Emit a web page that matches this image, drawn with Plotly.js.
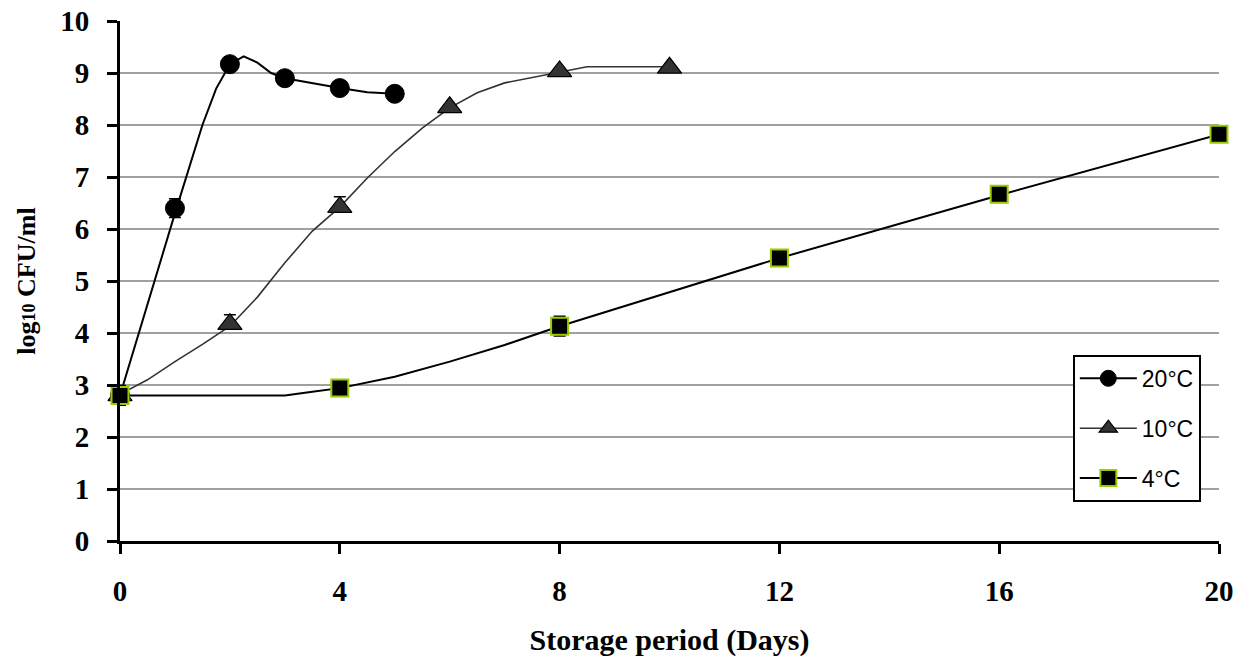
<!DOCTYPE html>
<html>
<head>
<meta charset="utf-8">
<script src="https://cdn.plot.ly/plotly-3.0.1.min.js"></script>
<style>html,body{margin:0;padding:0;background:#fff;}#chart{width:1240px;height:659px;}</style>
</head>
<body>
<div id="chart"></div>
<script>
// Measured points
const seriesNames = ['20°C', '10°C', '4°C'];
const days20 = [0, 1, 2, 3, 4, 5];
const cfu20 = [2.8, 6.4, 9.17, 8.9, 8.71, 8.6];
const errUp20 = [0, 0.18, 0, 0, 0, 0];
const errDown20 = [0, 0.18, 0, 0, 0, 0];
const days10 = [0, 2, 4, 6, 8, 10];
const cfu10 = [2.8, 4.17, 6.42, 8.34, 9.03, 9.1];
const errUp10 = [0, 0.18, 0.2, 0.05, 0, 0];
const errDown10 = [0, 0, 0, 0, 0, 0];
const days4 = [0, 4, 8, 12, 16, 20];
const cfu4 = [2.8, 2.94, 4.13, 5.44, 6.67, 7.82];
const errUp4 = [0.19, 0, 0.19, 0, 0, 0];
const errDown4 = [0.19, 0, 0.19, 0, 0, 0];

// Fitted curves
const fitDays20 = [0, 1, 1.5, 1.75, 2, 2.25, 2.5, 2.75, 3, 3.5, 4, 4.5, 5];
const fit20 = [2.8, 6.3, 8.0, 8.7, 9.17, 9.32, 9.2, 9.0, 8.9, 8.8, 8.71, 8.63, 8.6];
const fitDays10 = [0, 0.5, 1, 1.5, 2, 2.5, 3, 3.5, 4, 4.5, 5, 5.5, 6, 6.5, 7, 8, 8.5, 10];
const fit10 = [2.82, 3.1, 3.45, 3.78, 4.13, 4.69, 5.35, 5.96, 6.42, 6.98, 7.49, 7.94, 8.33, 8.62, 8.81, 9.01, 9.12, 9.12];
const fitDays4 = [0, 3, 3.5, 4, 5, 6, 7, 8, 12, 16, 20];
const fit4 = [2.8, 2.8, 2.87, 2.94, 3.16, 3.45, 3.77, 4.13, 5.44, 6.65, 7.82];

const xTicks = [0, 4, 8, 12, 16, 20];

const styles = [
  {line: {color: '#000000', width: 2}, marker: {symbol: 'circle', size: 19, color: '#000000', line: {color: '#000000', width: 1}}},
  {line: {color: '#333333', width: 1.6}, marker: {symbol: 'triangle-up', size: 21, color: '#333333', line: {color: '#000000', width: 1.2}}},
  {line: {color: '#000000', width: 2}, marker: {symbol: 'square', size: 17, color: '#000000', line: {color: '#99CC00', width: 2}}}
];

const fits = [[fitDays20, fit20], [fitDays10, fit10], [fitDays4, fit4]];
const pts = [[days20, cfu20, errUp20, errDown20], [days10, cfu10, errUp10, errDown10], [days4, cfu4, errUp4, errDown4]];

const traces = [];
fits.forEach((f, i) => {
  traces.push({x: f[0], y: f[1], mode: 'lines', line: styles[i].line, showlegend: false, hoverinfo: 'skip', cliponaxis: false});
});
pts.forEach((p, i) => {
  traces.push({x: p[0], y: p[1], mode: 'markers', marker: styles[i].marker, showlegend: false, cliponaxis: false,
    error_y: {type: 'data', symmetric: false, array: p[2], arrayminus: p[3], visible: true, color: '#000000', thickness: 1.5, width: 6}});
});
// legend entries
seriesNames.forEach((n, i) => {
  traces.push({x: [null], y: [null], name: n, mode: 'lines+markers', line: styles[i].line, marker: styles[i].marker, legendgroup: 'g' + i});
});

const serif = '"Liberation Serif", "Times New Roman", serif';
const layout = {
  width: 1240, height: 659,
  margin: {l: 120, r: 21, t: 21, b: 118},
  paper_bgcolor: '#ffffff', plot_bgcolor: '#ffffff',
  xaxis: {
    range: [0, 20], tickvals: xTicks, ticktext: xTicks.map(String),
    showgrid: false, zeroline: false, showline: true, linecolor: '#000000', linewidth: 3,
    ticks: 'outside', ticklen: 10, tickwidth: 3, tickcolor: '#000000', ticklabelstandoff: 12,
    tickfont: {family: serif, size: 29, color: '#000000', weight: 'bold'},
    title: {text: 'Storage period (Days)', font: {family: serif, size: 30, color: '#000000', weight: 'bold'}, standoff: 24},
    fixedrange: true
  },
  yaxis: {
    range: [0, 10], dtick: 1,
    showgrid: true, gridcolor: '#a0a0a0', gridwidth: 1.5, zeroline: false,
    showline: true, linecolor: '#000000', linewidth: 3,
    ticks: 'outside', ticklen: 10, tickwidth: 3, tickcolor: '#000000', ticklabelstandoff: 12,
    tickfont: {family: serif, size: 29, color: '#000000', weight: 'bold'},
    title: {text: 'log<span style="font-size:18px">10</span> CFU/ml', font: {family: serif, size: 26, color: '#000000', weight: 'bold'}, standoff: 18},
    fixedrange: true
  },
  legend: {
    x: 0.867, xanchor: 'left', y: 0.358, yanchor: 'top',
    bgcolor: '#ffffff', bordercolor: '#000000', borderwidth: 2,
    font: {family: '"Liberation Sans", Arial, sans-serif', size: 23, color: '#000000'},
    itemwidth: 57, tracegroupgap: 17
  },
  showlegend: true
};

Plotly.newPlot('chart', traces, layout, {displayModeBar: false, staticPlot: true});
</script>
</body>
</html>
